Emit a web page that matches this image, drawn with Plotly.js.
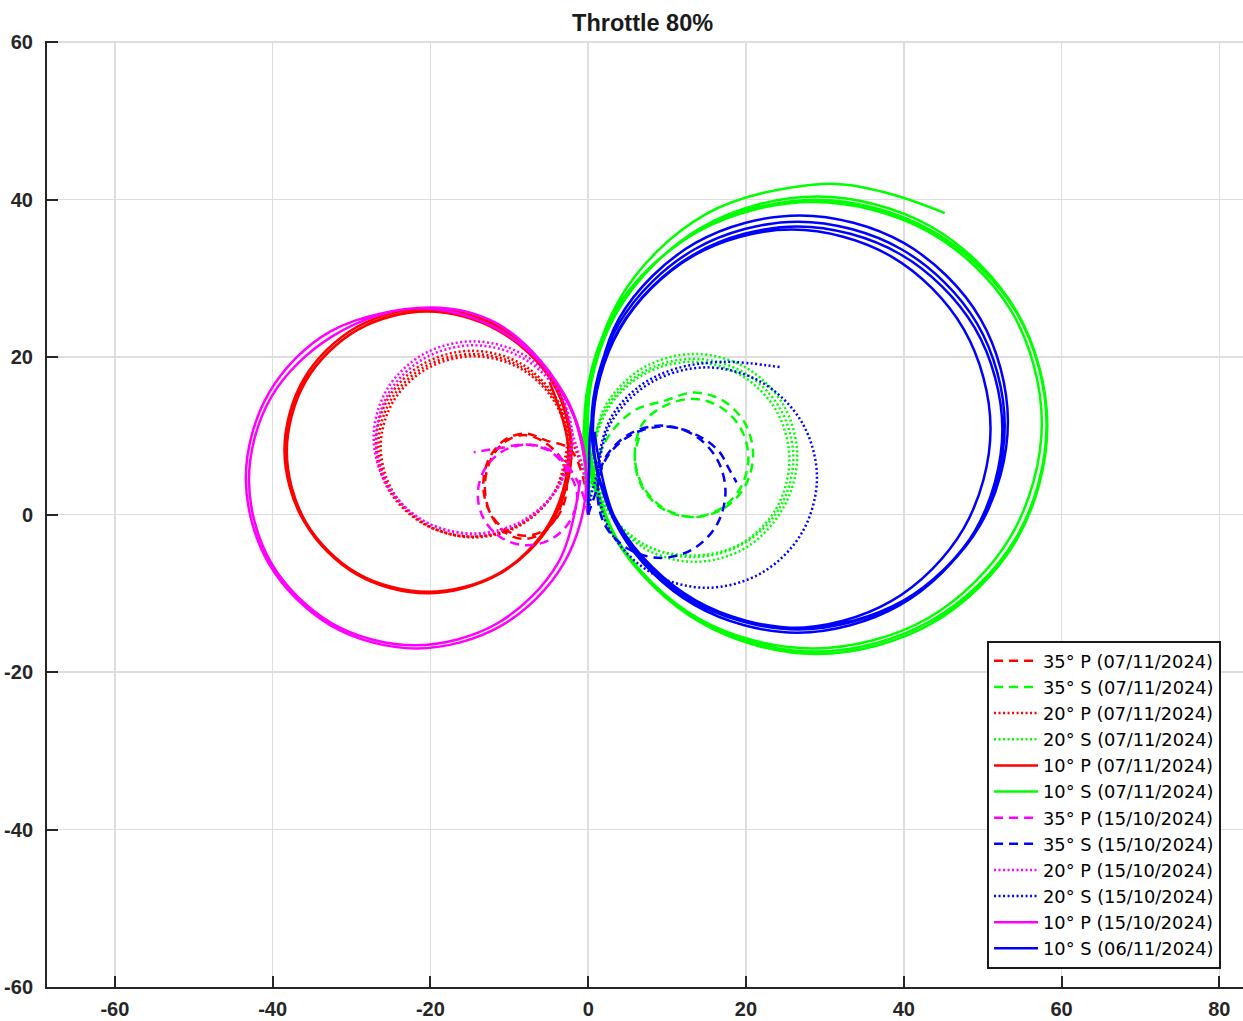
<!DOCTYPE html>
<html>
<head>
<meta charset="utf-8">
<script src="https://cdn.plot.ly/plotly-3.0.1.min.js"></script>
<style>html,body{margin:0;padding:0;background:#fff;}#chart{width:1243px;height:1021px;}</style>
</head>
<body>
<div id="chart"></div>
<script>
// Trajectory waypoints (x, y in plot units)
const names = ["35° P (07/11/2024)","35° S (07/11/2024)","20° P (07/11/2024)","20° S (07/11/2024)",
  "10° P (07/11/2024)","10° S (07/11/2024)","35° P (15/10/2024)","35° S (15/10/2024)",
  "20° P (15/10/2024)","20° S (15/10/2024)","10° P (15/10/2024)","10° S (06/11/2024)"];

const x35P_0711 = [0,-0.6,-2.3,-5.35,-8.0,-10.65,-12.59,-13.3,-12.59,-10.65,-8.0,-5.35,-3.41,-2.7,-3.41,-5.6,-8.1,-10.6,-12.43,-13.1,-12.43,-10.6,-8.1,-5.6,-3.77,-3.1];
const y35P_0711 = [0,4.5,8.3,9.43,10.3,9.43,7.05,3.8,0.55,-1.83,-2.7,-1.83,0.55,3.8,7.05,9.22,10.1,9.22,6.8,3.5,0.2,-2.22,-3.1,-2.22,0.2,3.5];

const x35S_0711 = [0,0.6,2.6,5.8,9.65,13.4,17.15,19.9,20.9,19.9,17.15,13.4,9.65,6.9,5.9,6.9,9.5,13.1,16.7,19.34,20.3,19.34,16.7,13.1,9.5,6.86,5.9,6.9];
const y35S_0711 = [0,5.0,10.0,13.2,14.44,15.5,14.44,11.55,7.6,3.65,0.76,-0.3,0.76,3.65,7.6,11.55,13.7,14.7,13.7,10.95,7.2,3.45,0.7,-0.3,0.7,3.45,7.2,11.0];

const x20P_0711 = [0,-0.5,-2.3,-4.13,-8.6,-14.7,-20.8,-25.27,-26.9,-25.27,-20.8,-14.7,-8.6,-4.13,-2.5,-4.21,-8.6,-14.6,-20.6,-24.99,-26.6,-24.99,-20.6,-14.6,-8.6,-4.21,-2.6,-4.28,-8.6,-14.5,-20.4,-24.72,-26.3,-24.72,-20.4,-14.5,-8.6,-4.28,-2.7];
const y20P_0711 = [0,5,10,14.9,19.22,20.8,19.22,14.9,9.0,3.1,-1.22,-2.8,-1.22,3.1,9.0,14.6,18.85,20.4,18.85,14.6,8.8,3.0,-1.25,-2.8,-1.25,3.0,8.8,14.35,18.56,20.1,18.56,14.35,8.6,2.85,-1.36,-2.9,-1.36,2.85,8.6];

const x20S_0711 = [0,0.3,0.5,2.24,7.0,13.5,20.0,24.76,26.5,24.76,20.0,13.5,7.0,2.24,0.6,2.3,6.95,13.3,19.65,24.3,26.0,24.3,19.65,13.3,6.95,2.3,0.7,2.36,6.9,13.1,19.3,23.84,25.5,23.84,19.3,13.1,6.9,2.36,0.8];
const y20S_0711 = [0,4,7.4,13.9,18.66,20.4,18.66,13.9,7.4,0.9,-4.2,-6.0,-4.2,0.9,7.2,13.5,18.1,19.8,18.1,13.5,7.2,0.9,-3.7,-5.4,-3.7,0.9,7.0,13.2,17.74,19.4,17.74,13.2,7.0,0.8,-3.74,-5.2,-3.74,0.8,6.8];

const x10P_0711 = [0,-0.3,-1.8,-5.0,-11.2,-20.3,-29.4,-36.06,-38.5,-36.06,-29.4,-20.3,-11.2,-4.54,-2.1,-4.54,-11.2,-20.2,-29.2,-35.79,-38.2,-35.79,-29.2,-20.2,-11.2,-4.61,-2.2,-4.61,-11.45,-20.4,-29.35,-35.9,-38.3,-35.9,-29.35,-20.4,-11.45,-4.9,-2.5,-4.9];
const y10P_0711 = [0,6,12.5,18,23.79,26.2,23.79,17.2,8.2,-0.8,-7.39,-9.8,-7.39,-0.8,8.2,17.2,23.5,25.9,23.5,16.95,8.0,-0.95,-7.5,-9.9,-7.5,-0.95,8.0,16.95,23.4,25.8,23.4,16.85,7.9,-1.05,-7.6,-10.0,-7.6,-1.05,7.9,16.85];

const x10S_0711 = [0,-0.4,-0.5,3.4,14.0,28.5,43.0,53.6,57.5,53.6,43.0,28.5,14.0,3.4,-0.5,3.4,14.15,28.8,43.45,54.2,58.1,54.2,43.45,28.8,14.15,3.4,-0.2,3.7,14.4,29.0,43.6,54.3,58.2,54.3,43.6,29.0,14.4,3.7,0.0,4.0,14.8,29.6,37.3,45.2];
const y10S_0711 = [0,5.5,11.6,25.9,36.0,39.7,36.0,25.9,11.6,-2.7,-13.2,-17.0,-13.2,-2.7,11.4,25.8,36.1,40.0,36.1,25.8,11.4,-3.0,-13.5,-17.4,-13.5,-3.0,11.3,25.8,36.5,40.4,36.5,25.8,11.3,-3.2,-13.8,-17.7,-13.8,-3.2,12.8,27.4,38.1,42.0,41.0,38.3];

const x35P_1510 = [0,-0.9,-2.24,-4.55,-7.7,-10.85,-13.16,-14.0,-13.16,-10.85,-7.7,-4.55,-2.24,-1.4,-2.7,-4.9,-7.9,-10.9,-12.8,-14.5];
const y35P_1510 = [0,3.2,5.7,8.04,8.9,8.04,5.7,2.5,-0.7,-3.04,-3.9,-3.04,-0.7,2.5,5.75,8.06,8.9,8.5,8.2,7.9];

const x35S_1510 = [0,0.5,1.0,2.1,5.1,9.2,13.3,16.3,17.4,16.3,13.3,9.2,5.1,2.1,1.2,2.33,5.4,9.6,13.8,16.6,17.8,18.8];
const y35S_1510 = [0,1.5,2.9,7.1,10.17,11.3,10.17,7.1,2.9,-1.3,-4.37,-5.5,-4.37,-1.3,3.2,7.2,10.1,11.2,10.1,8.0,5.9,4.1];

const x20P_1510 = [0,-0.5,-2.2,-3.69,-8.3,-14.6,-20.9,-25.51,-27.2,-25.51,-20.9,-14.6,-8.3,-3.69,-2.0,-3.76,-8.3,-14.5,-20.7,-25.24,-26.9,-25.24,-20.7,-14.5,-8.3,-3.76,-2.1];
const y20P_1510 = [0,5,11,15.9,20.37,22.0,20.37,15.9,9.8,3.7,-0.77,-2.4,-0.77,3.7,9.8,15.5,19.89,21.5,19.89,15.5,9.5,3.5,-0.89,-2.5,-0.89,3.5,9.5];

const x20S_1510 = [0,0.4,1.0,2.9,8.0,15.0,22.0,27.1,29.0,27.1,22.0,15.0,8.0,2.9,1.3,1.5,3.0,6.5,11.0,17.0,24.5];
const y20S_1510 = [0,2.5,4.7,11.7,16.8,18.7,16.8,11.7,4.7,-2.3,-7.4,-9.3,-7.4,-2.3,3.0,8.0,12.5,16.3,18.5,19.4,18.7];

const x10P_1510 = [0,-0.3,-2.0,-6.0,-12.0,-20.0,-32.6,-40.5,-43.4,-40.5,-32.6,-21.8,-11.0,-3.1,-0.2,-3.1,-11.0,-21.8,-32.5,-40.2,-43.0,-40.2,-32.5,-22.0,-11.5,-3.8,-1.0];
const y10P_1510 = [0,6,13,19.5,24.5,26.3,23.3,15.4,4.6,-6.2,-14.1,-17.0,-14.1,-6.2,4.6,15.4,23.3,26.2,22.6,14.9,4.4,-6.1,-13.8,-16.6,-13.8,-6.1,4.4];

const x10S_0611 = [0,0.1,0.4,3.9,13.6,26.8,40.0,49.7,53.2,49.7,40.0,26.8,13.6,3.9,0.4,3.9,13.5,26.6,39.7,49.3,52.8,49.3,39.7,26.6,13.5,3.9,0.5,4.0,13.5,26.5,39.5,49.0,52.5,49.0,39.5,26.5,13.5,4.0,0.6,4.0,13.2,25.8,38.4,47.6,51.0,47.6,38.4,25.8,13.2,4.0,0.8];
const y10S_0611 = [0,5.5,11.8,24.9,34.5,38.0,34.5,24.9,11.8,-1.3,-10.9,-14.4,-10.9,-1.3,11.3,24.25,33.7,37.2,33.7,24.25,11.3,-1.65,-11.1,-14.6,-11.1,-1.65,10.8,23.7,33.1,36.6,33.1,23.7,10.8,-2.1,-11.5,-15.0,-11.5,-2.1,10.9,23.55,32.8,36.2,32.8,23.55,10.9,-1.75,-11.0,-14.4,-11.0,-1.75,10.5];

const xTicks = [-60,-40,-20,0,20,40,60,80];
const yTicks = [-60,-40,-20,0,20,40,60];

const xs = [x35P_0711,x35S_0711,x20P_0711,x20S_0711,x10P_0711,x10S_0711,x35P_1510,x35S_1510,x20P_1510,x20S_1510,x10P_1510,x10S_0611];
const ys = [y35P_0711,y35S_0711,y20P_0711,y20S_0711,y10P_0711,y10S_0711,y35P_1510,y35S_1510,y20P_1510,y20S_1510,y10P_1510,y10S_0611];
const colors = ['#ff0000','#00ff00','#ff0000','#00ff00','#ff0000','#00ff00','#ff00ff','#0000ff','#ff00ff','#0000ff','#ff00ff','#0000ff'];
const DASH = '9px,6px', DOT = '2px,2.5px';
const dashes = [DASH,DASH,DOT,DOT,'solid','solid',DASH,DASH,DOT,DOT,'solid','solid'];

const traces = names.map((n,i)=>({
  type:'scatter', mode:'lines', name:n, x:xs[i], y:ys[i],
  line:{color:colors[i], width:2.5, dash:dashes[i], shape:'spline', smoothing:1},
  hoverinfo:'skip'
}));

const tickFont = {family:'Liberation Sans, Arial, sans-serif', size:20, color:'#262626', weight:'bold'};
const layout = {
  width:1243, height:1021,
  margin:{l:47, r:0, t:41, b:34, pad:0},
  paper_bgcolor:'#ffffff', plot_bgcolor:'#ffffff',
  showlegend:true,
  title:{text:'Throttle 80%', x:0.517, xref:'container', xanchor:'center', y:0.978, yref:'container', yanchor:'middle',
    font:{family:'Liberation Sans, Arial, sans-serif', size:23.5, color:'#1a1a1a', weight:'bold'}},
  xaxis:{range:[-68.6,83.0], tickvals:xTicks, ticktext:xTicks.map(String), showgrid:true, gridcolor:'#dedede', gridwidth:1.5,
    zeroline:false, showline:true, linecolor:'#262626', linewidth:2, mirror:false,
    ticks:'inside', ticklen:11, tickwidth:2, tickcolor:'#262626', tickfont:tickFont, ticklabelstandoff:3, automargin:false},
  yaxis:{range:[-60,60.15], tickvals:yTicks, ticktext:yTicks.map(String), showgrid:true, gridcolor:'#dedede', gridwidth:1.5,
    zeroline:false, showline:true, linecolor:'#262626', linewidth:2, mirror:false,
    ticks:'inside', ticklen:11, tickwidth:2, tickcolor:'#262626', tickfont:tickFont, ticklabelstandoff:8, automargin:false},
  legend:{x:0.786, xref:'paper', xanchor:'left', y:0.366, yref:'paper', yanchor:'top',
    bgcolor:'#ffffff', bordercolor:'#1a1a1a', borderwidth:2, itemwidth:44,
    font:{family:'DejaVu Sans, sans-serif', size:17.8, color:'#000000'}, tracegroupgap:0},
  hovermode:false
};
Plotly.newPlot('chart', traces, layout, {displayModeBar:false, staticPlot:true});
</script>
</body>
</html>
